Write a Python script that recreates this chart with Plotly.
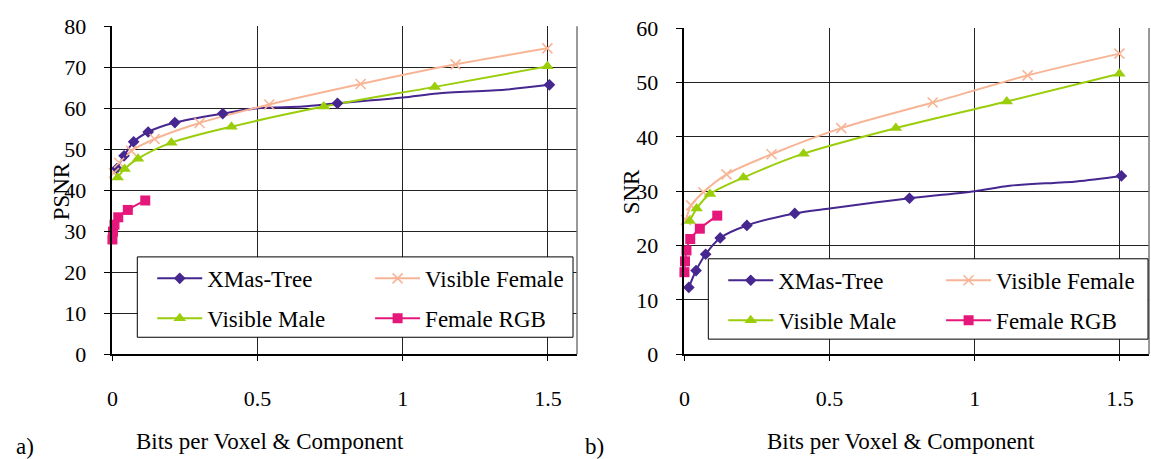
import plotly.graph_objects as go

# ---------------- data ----------------
series_names = ["XMas-Tree", "Visible Female", "Visible Male", "Female RGB"]

bits_xmas = [0.015, 0.04, 0.073, 0.123, 0.215, 0.38, 0.775, 1.505]
psnr_xmas = [45.3, 48.4, 51.8, 54.2, 56.5, 58.7, 61.2, 65.7]
snr_xmas = [12.3, 15.4, 18.4, 21.4, 23.7, 25.9, 28.7, 32.8]
# unmarked points of the XMas-Tree curves
bits_xmas_extra = [0.5, 0.655, 1.0, 1.12, 1.35]
psnr_xmas_extra = [60.0, 60.4, 62.6, 63.6, 64.5]
snr_xmas_extra = [26.8, 27.9, 30.0, 31.0, 31.8]

bits_vf = [0.005, 0.023, 0.065, 0.145, 0.30, 0.54, 0.855, 1.182, 1.498]
psnr_vf = [44.2, 46.7, 49.6, 52.5, 56.4, 60.9, 65.9, 70.7, 74.6]
snr_vf = [24.7, 27.4, 29.8, 33.1, 36.8, 41.6, 46.3, 51.3, 55.3]

bits_vm = [0.018, 0.042, 0.088, 0.203, 0.41, 0.728, 1.11, 1.498]
psnr_vm = [43.1, 45.2, 47.7, 51.6, 55.5, 60.4, 65.2, 70.2]
snr_vm = [24.5, 26.8, 29.5, 32.5, 36.9, 41.6, 46.5, 51.6]

bits_rgb = [0.0, 0.002, 0.007, 0.02, 0.053, 0.113]
psnr_rgb = [28.0, 29.9, 31.6, 33.4, 35.2, 37.5]
snr_rgb = [15.1, 17.1, 19.1, 21.2, 23.1, 25.5]

x_ticks = [0, 0.5, 1, 1.5]

# ---------------- styling ----------------
FONT = "Liberation Serif, Times New Roman, serif"
W, H = 1151, 459
colors = ["#46268F", "#F7B596", "#9ACD0A", "#E5177B"]
symbols = ["diamond", "x-thin", "triangle-up", "square"]
msizes = [9, 10, 11, 10]

fig = go.Figure()


def merge(xm, ym, xe, ye):
    pts = sorted(zip(list(xm) + list(xe), list(ym) + list(ye)))
    return [p[0] for p in pts], [p[1] for p in pts]


# legend column for each series (col 1: XMas-Tree, Visible Male; col 2: the others)
col_of = [0, 1, 0, 1]

panels = [
    dict(xa="x", ya="y", legs=["legend", "legend2"],
         data=[(bits_xmas, psnr_xmas, bits_xmas_extra, psnr_xmas_extra),
               (bits_vf, psnr_vf, [], []),
               (bits_vm, psnr_vm, [], []),
               (bits_rgb, psnr_rgb, [], [])]),
    dict(xa="x2", ya="y2", legs=["legend3", "legend4"],
         data=[(bits_xmas, snr_xmas, bits_xmas_extra, snr_xmas_extra),
               (bits_vf, snr_vf, [], []),
               (bits_vm, snr_vm, [], []),
               (bits_rgb, snr_rgb, [], [])]),
]


def marker_style(i):
    if symbols[i] == "x-thin":
        return dict(symbol="x-thin", size=msizes[i], color=colors[i],
                    line=dict(color=colors[i], width=1.6))
    return dict(symbol=symbols[i], size=msizes[i], color=colors[i],
                line=dict(width=0))


for pi, p in enumerate(panels):
    for i, (xm, ym, xe, ye) in enumerate(p["data"]):
        lx, ly = merge(xm, ym, xe, ye)
        fig.add_trace(go.Scatter(x=lx, y=ly, mode="lines", xaxis=p["xa"], yaxis=p["ya"],
                                 line=dict(color=colors[i], width=2, shape="spline", smoothing=0.8),
                                 showlegend=False, hoverinfo="skip", cliponaxis=False))
    for i, (xm, ym, xe, ye) in enumerate(p["data"]):
        fig.add_trace(go.Scatter(x=xm, y=ym, mode="markers", xaxis=p["xa"], yaxis=p["ya"],
                                 marker=marker_style(i), showlegend=False, cliponaxis=False))
    for i, name in enumerate(series_names):
        fig.add_trace(go.Scatter(x=[None], y=[None], mode="lines+markers", name=name,
                                 xaxis=p["xa"], yaxis=p["ya"], legend=p["legs"][col_of[i]],
                                 legendgroup=f"g{pi}{i}",
                                 line=dict(color=colors[i], width=2),
                                 marker=marker_style(i), showlegend=True))

tickfont = dict(family=FONT, size=22, color="black")


def xaxis(dom):
    return dict(domain=dom, range=[0, 1.6], tickvals=x_ticks, showgrid=True,
                gridcolor="#222222", gridwidth=1, showline=True, linecolor="black",
                linewidth=1.5, ticks="outside", ticklen=5, tickcolor="black",
                tickfont=tickfont, zeroline=False, ticklabelstandoff=19, fixedrange=True)


def yaxis(dom, top, anchor):
    return dict(domain=dom, range=[0, top], dtick=10, showgrid=True, anchor=anchor,
                gridcolor="#222222", gridwidth=1, showline=True, linecolor="black",
                linewidth=1.5, ticks="outside", ticklen=7, tickcolor="black",
                tickfont=tickfont, zeroline=False, ticklabelstandoff=13, fixedrange=True)


def legend(x_px, top_px):
    return dict(x=x_px / W, y=1 - top_px / H, xanchor="left", yanchor="top",
                orientation="v", itemwidth=45, borderwidth=0,
                bgcolor="rgba(0,0,0,0)", tracegroupgap=7, traceorder="grouped",
                font=dict(family=FONT, size=23, color="black"))


fig.update_layout(
    width=W, height=H, margin=dict(l=0, r=0, t=0, b=0),
    paper_bgcolor="white", plot_bgcolor="white",
    font=dict(family=FONT, size=22, color="black"),
    xaxis=xaxis([107 / W, 574 / W]),
    yaxis=yaxis([1 - 362 / H, 1 - 15 / H], 80, "x"),
    xaxis2=dict(xaxis([682 / W, 1149 / W]), anchor="y2"),
    yaxis2=yaxis([1 - 362 / H, 1 - 17 / H], 60, "x2"),
    legend=legend(147, 259),
    legend2=legend(366, 259),
    legend3=legend(721, 261),
    legend4=legend(940, 261),
    showlegend=True,
)

# right-hand frame edges of both plot areas
for xr, yr in (("x", "y"), ("x2", "y2")):
    fig.add_shape(type="line", xref=f"{xr} domain", yref=f"{yr} domain",
                  x0=1, x1=1, y0=0, y1=1, line=dict(color="#777777", width=1.5))

# legend frames
for (bx0, by0, bx1, by1) in ((132, 259, 570, 344), (706, 261, 1148, 346)):
    fig.add_shape(type="rect", xref="paper", yref="paper", layer="above",
                  x0=bx0 / W, x1=bx1 / W, y0=1 - by1 / H, y1=1 - by0 / H,
                  fillcolor="white", line=dict(color="black", width=1))

ann = [
    dict(text="Bits per Voxel &amp; Component", x=265 / W, y=1 - 454 / H),
    dict(text="Bits per Voxel &amp; Component", x=900 / W, y=1 - 454 / H),
    dict(text="PSNR", x=56 / W, y=1 - 190 / H, textangle=-90),
    dict(text="SNR", x=629 / W, y=1 - 190 / H, textangle=-90),
]
for a in ann:
    fig.add_annotation(xref="paper", yref="paper", showarrow=False,
                       xanchor="center", yanchor="middle",
                       font=dict(family=FONT, size=23, color="black"), **a)
fig.add_annotation(text="a)", x=8 / W, y=1 - 459 / H, xref="paper", yref="paper",
                   showarrow=False, xanchor="left", yanchor="middle",
                   font=dict(family=FONT, size=23, color="black"))
fig.add_annotation(text="b)", x=580 / W, y=1 - 459 / H, xref="paper", yref="paper",
                   showarrow=False, xanchor="left", yanchor="middle",
                   font=dict(family=FONT, size=23, color="black"))

fig.write_html("out.html", config={"displayModeBar": False},
               post_script="document.body.style.margin='0';")
